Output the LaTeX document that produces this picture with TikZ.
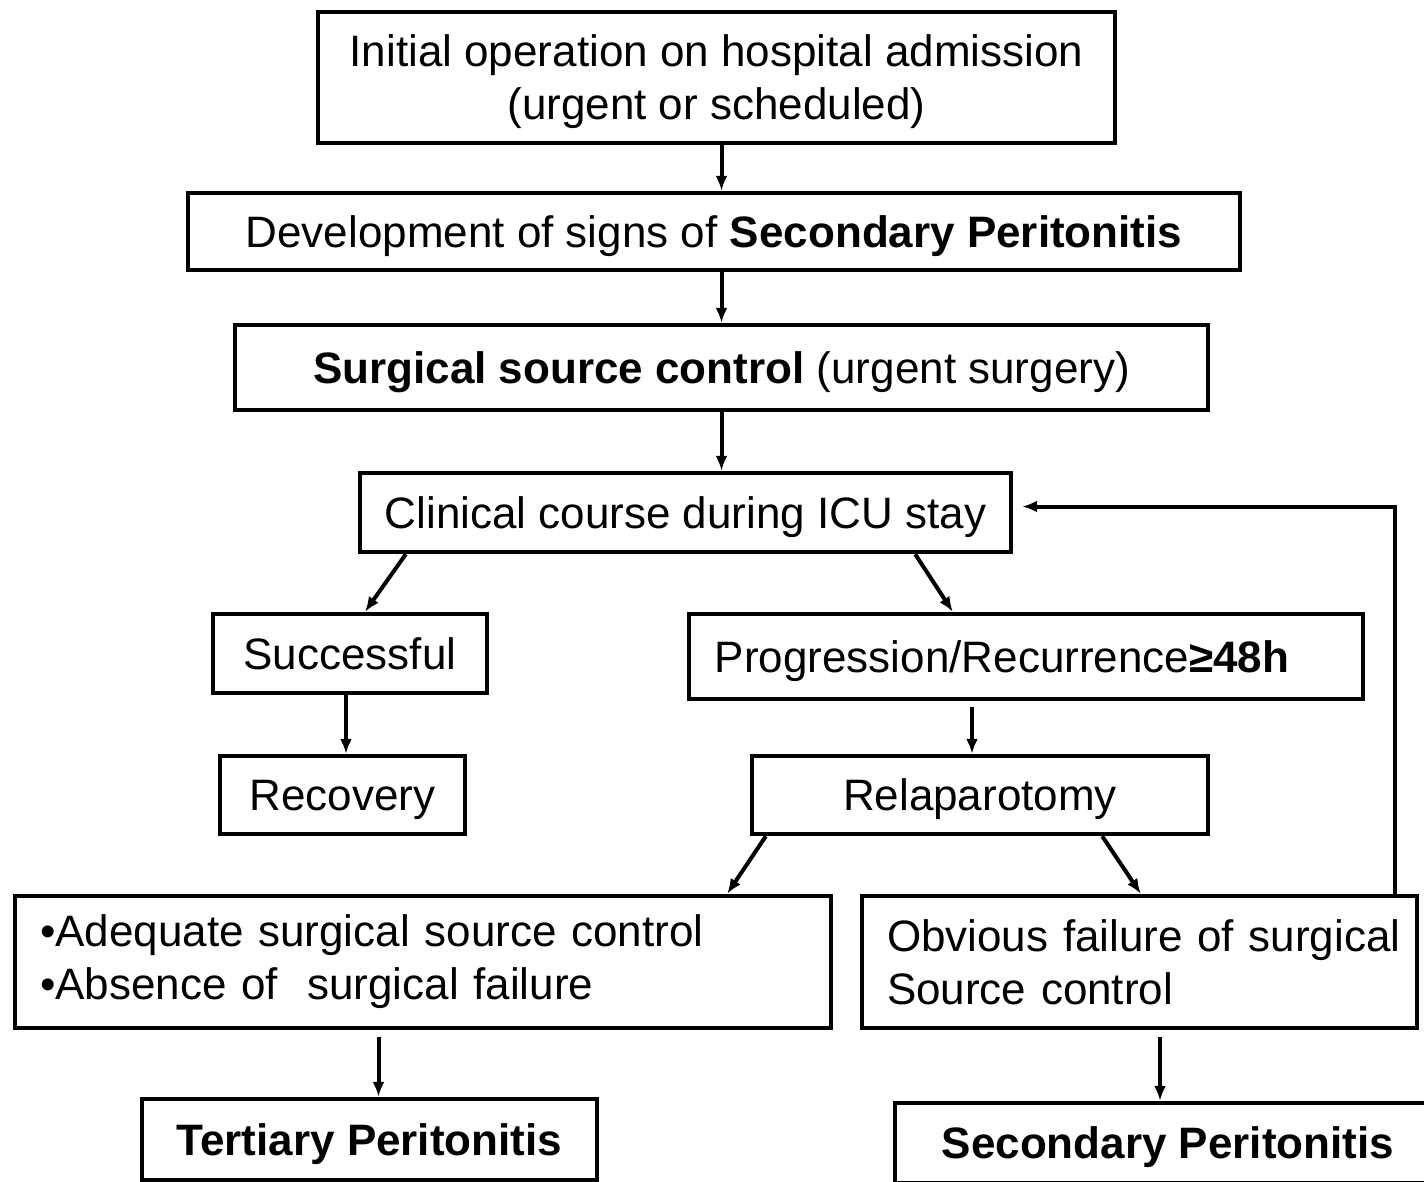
\documentclass[tikz,border=0pt]{standalone}
\usepackage{fontspec}
\setmainfont{Liberation Sans}
\usetikzlibrary{arrows.meta}
\begin{document}
\begin{tikzpicture}[x=0.5pt, y=-0.5pt,
    box/.style={draw, line width=2.2pt, inner sep=0pt, align=center,
      text depth=0pt, font=\fontsize{22}{26.5}\selectfont},
    listbox/.style={draw, line width=2.2pt, align=left, text width=383pt,
      inner xsep=12.5pt, inner ysep=0pt, font=\fontsize{22}{26.5}\selectfont},
    arr/.style={-{Latex[length=7.5pt,width=6pt]}, line width=2pt}]
    \useasboundingbox (0,0) rectangle (1424,1182);
    \node[box, minimum width=398.5pt, minimum height=65.5pt] (init) at (716.5,77.5)
      {Initial operation on hospital admission\\(urgent or scheduled)};
    \node[box, minimum width=526pt, minimum height=38.5pt] (dev) at (714,231.5)
      {Development of signs of \textbf{Secondary Peritonitis}};
    \node[box, minimum width=486.5pt, minimum height=42.5pt] (src) at (721.5,367.5)
      {\textbf{Surgical source control} (urgent surgery)};
    \node[box, minimum width=325.5pt, minimum height=39.5pt] (icu) at (685.5,512.5)
      {Clinical course during ICU stay};
    \node[box, minimum width=137pt, minimum height=39.5pt] (succ) at (350,653.5)
      {Successful};
    \node[box, minimum width=337pt, minimum height=42.5pt] (prog) at (1026,656.5)
      {Progression/Recurrence\textbf{≥48h}\hspace*{24pt}};
    \node[box, minimum width=122.5pt, minimum height=39pt] (recov) at (342.5,795)
      {Recovery};
    \node[box, minimum width=228pt, minimum height=39pt] (relap) at (980,795)
      {Relaparotomy};
    \node[listbox, minimum height=66pt] (adeq) at (423,962)
      {\mbox{•Adequate surgical source control}\\\mbox{•Absence of\ \ surgical failure}};
    \node[listbox, text width=252.5pt, minimum height=66pt] (fail) at (1139.5,962)
      {\mbox{Obvious failure of surgical}\\\mbox{Source control}};
    \node[box, minimum width=227.5pt, minimum height=40.5pt] (tert) at (369.5,1139.5)
      {\textbf{Tertiary Peritonitis}};
    \node[box, minimum width=273pt, minimum height=40pt] (sec) at (1168,1143)
      {\textbf{Secondary Peritonitis}};
    % connectors
    \draw[arr] (init.south -| src.center) -- (dev.north -| src.center);
    \draw[arr] (dev.south -| src.center) -- (src.north);
    \draw[arr] (src.south) -- (icu.north -| src.south);
    \draw[arr] ([xshift=24pt]icu.south west) -- ([xshift=7.5pt]succ.north);
    \draw[arr] ([xshift=-49pt]icu.south east) -- ([xshift=133pt]prog.north west);
    \draw[arr] ([xshift=-2pt]succ.south) -- ([xshift=-2pt]succ.south |- recov.north);
    \draw[arr, shorten <=3pt] ([xshift=-4pt]relap.north |- prog.south) -- ([xshift=-4pt]relap.north);
    \draw[arr] ([xshift=8pt]relap.south west) -- ([xshift=-53pt]adeq.north east);
    \draw[arr] ([xshift=-54pt]relap.south east) -- ([xshift=140.5pt]fail.north west);
    \draw[arr, shorten <=3.5pt] ([xshift=4.5pt]tert.north |- adeq.south) -- ([xshift=4.5pt]tert.north);
    \draw[arr, shorten <=3.5pt] ([xshift=-4pt]sec.north |- fail.south) -- ([xshift=-4pt]sec.north);
    \draw[arr] ([xshift=-12pt]fail.north east) |- ([shift={(4.5pt,3pt)}]icu.east);
  \end{tikzpicture}
\end{document}
